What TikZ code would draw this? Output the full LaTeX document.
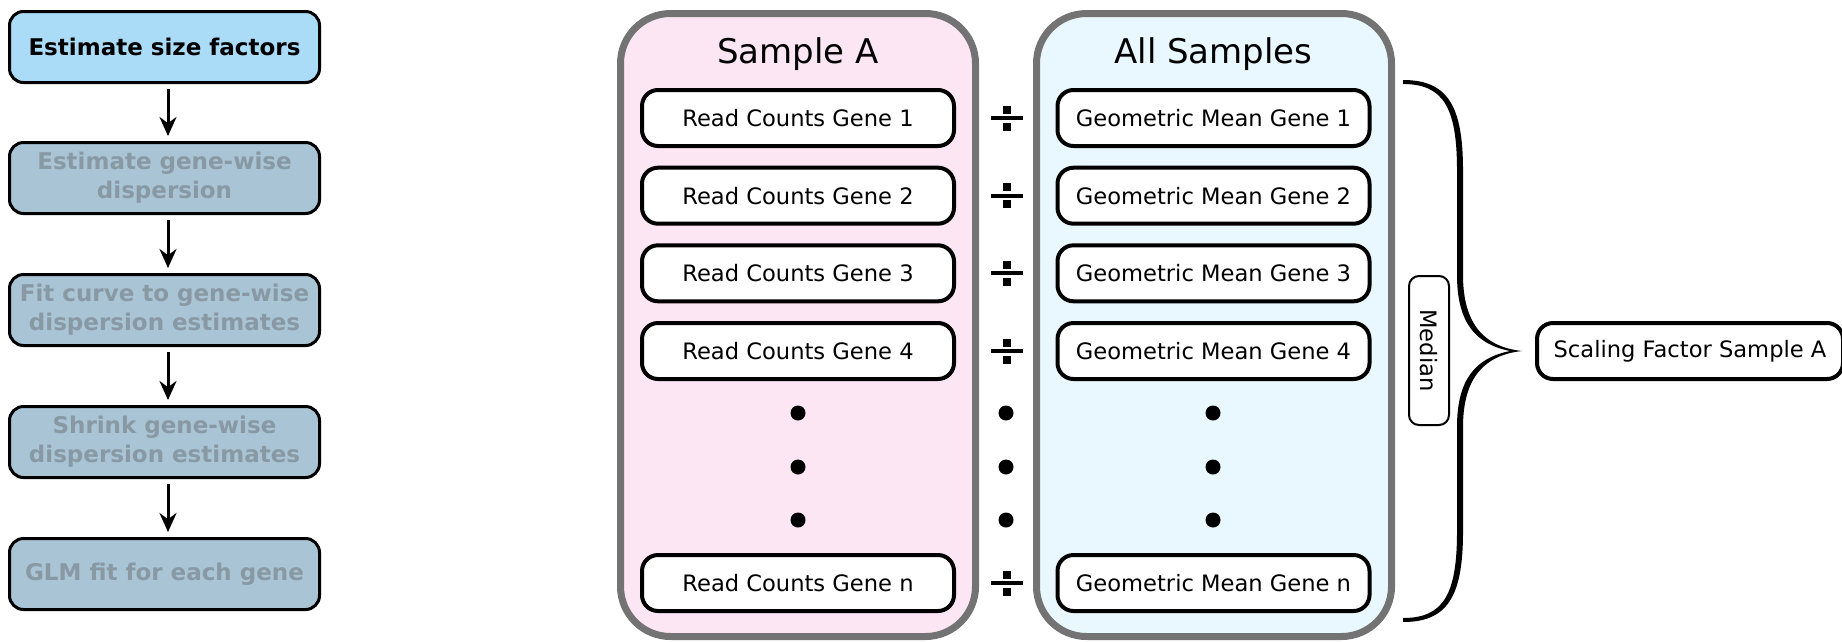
\documentclass[tikz,border=0pt]{standalone}
\usepackage{fontspec}
\setmainfont{DejaVu Sans}
\usetikzlibrary{arrows.meta}

\definecolor{stepblue}{RGB}{170,220,248}
\definecolor{stepgray}{RGB}{168,196,213}
\definecolor{steptext}{RGB}{137,153,164}
\definecolor{panelpink}{RGB}{253,230,243}
\definecolor{panelblue}{RGB}{232,248,254}
\definecolor{panelrim}{RGB}{115,115,115}

\tikzset{
  flowbox/.style={draw=black, line width=3pt, rounded corners=14pt,
    minimum width=310pt, minimum height=71pt, inner sep=0pt, align=center,
    font=\fontsize{23}{29}\selectfont\bfseries},
  flowarrow/.style={line width=3pt, -{Stealth[length=19pt,width=17pt]},
    shorten <=5pt, shorten >=5pt},
  panel/.style={draw=panelrim, line width=7pt, rounded corners=50pt,
    minimum width=355pt, minimum height=623pt, inner sep=0pt},
  paneltitle/.style={anchor=base, inner sep=0pt, font=\fontsize{34}{40}\selectfont},
  genebox/.style={draw=black, fill=white, line width=4pt, rounded corners=16pt,
    minimum width=312pt, minimum height=56pt, inner sep=0pt,
    font=\fontsize{22.6}{27}\selectfont},
  medianbox/.style={draw=black, fill=white, line width=2pt, rounded corners=10pt,
    minimum width=149pt, minimum height=40pt, inner sep=0pt, rotate=-90,
    font=\fontsize{22.6}{27}\selectfont},
  divsign/.pic={
    \fill (-16,-2) rectangle (16,2);
    \fill (-4,-12.5) rectangle (4,-4.5);
    \fill (-4,4.5) rectangle (4,12.5);
  },
  ellipsisdot/.style={fill=black}
}

\begin{document}
\begin{tikzpicture}[x=1pt,y=-1pt]
\useasboundingbox (0,0) rectangle (1842,641);

% workflow steps
\node[flowbox, fill=stepblue] (s1) at (164.5,47) {Estimate size factors};
\node[flowbox, fill=stepgray, text=steptext] (s2) at (164.5,178) {Estimate gene-wise\\dispersion};
\node[flowbox, fill=stepgray, text=steptext] (s3) at (164.5,310) {Fit curve to gene-wise\\dispersion estimates};
\node[flowbox, fill=stepgray, text=steptext] (s4) at (164.5,442) {Shrink gene-wise\\dispersion estimates};
\node[flowbox, fill=stepgray, text=steptext] (s5) at (164.5,574) {GLM fit for each gene};
\foreach \a/\b in {s1/s2, s2/s3, s3/s4, s4/s5} {
  \draw[flowarrow] ([xshift=3.5pt]\a.south) -- ([xshift=3.5pt]\b.north);
}

% sample panels
\node[panel, fill=panelpink] (pa) at (798,325) {};
\node[panel, fill=panelblue] (pb) at (1214,325) {};
\node[paneltitle] (ta) at (798,63) {Sample A};
\node[paneltitle] (tb) at (1213.5,63) {All Samples};

% gene rows
\foreach \i/\y in {1/118, 2/195.7, 3/273.3, 4/351} {
  \node[genebox] (r\i) at (798,\y) {Read Counts Gene \i};
  \node[genebox] (g\i) at (1213.5,\y) {Geometric Mean Gene \i};
  \pic at (1007,\y) {divsign};
}
\node[genebox] (rn) at (798,583) {Read Counts Gene n};
\node[genebox] (gn) at (1213.5,583) {Geometric Mean Gene n};
\pic at (1007,583) {divsign};

% ellipsis dots
\foreach \x in {798, 1006, 1213} {
  \foreach \y in {413, 467, 520} {
    \fill[ellipsisdot] (\x,\y) circle (7.5);
  }
}

% curly brace
\fill (1403,80) .. controls (1447,80) and (1463,105) .. (1463,170)
  -- (1463,275) .. controls (1463,325) and (1485,347) .. (1522,351)
  .. controls (1485,355) and (1463,377) .. (1463,427)
  -- (1463,532) .. controls (1463,597) and (1447,622) .. (1403,622)
  -- (1403,618) .. controls (1443,618) and (1457,595) .. (1457,532)
  -- (1457,427) .. controls (1457,380) and (1475,358) .. (1510,351)
  .. controls (1475,344) and (1457,322) .. (1457,275)
  -- (1457,170) .. controls (1457,107) and (1443,84) .. (1403,84) -- cycle;

\node[medianbox] (med) at (1429,350.5) {Median};
\node[genebox, minimum width=306pt] (sf) at (1690,351) {Scaling Factor Sample A};
\end{tikzpicture}
\end{document}
